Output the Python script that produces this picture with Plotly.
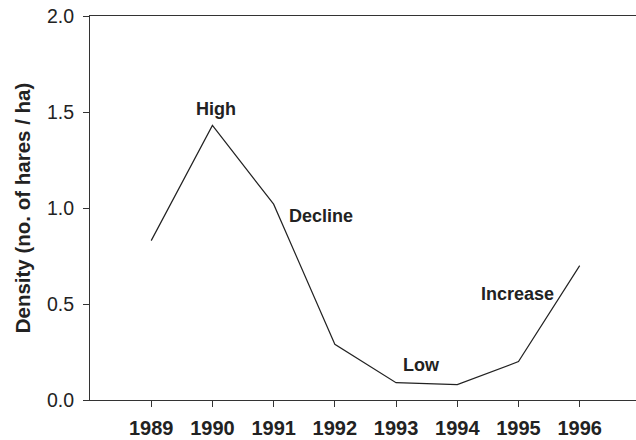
import plotly.graph_objects as go

years = [1989, 1990, 1991, 1992, 1993, 1994, 1995, 1996]
density = [0.83, 1.43, 1.02, 0.29, 0.09, 0.08, 0.20, 0.70]
y_ticks = [0.0, 0.5, 1.0, 1.5, 2.0]
y_tick_labels = ["0.0", "0.5", "1.0", "1.5", "2.0"]
phase_labels = ["High", "Decline", "Low", "Increase"]
phase_x = [1990.06, 1991.78, 1993.41, 1994.98]
phase_y = [1.516, 0.958, 0.182, 0.552]

fig = go.Figure()
fig.add_trace(go.Scatter(x=years, y=density, mode="lines",
                         line=dict(color="#222222", width=1.2),
                         showlegend=False, hoverinfo="skip"))

for t, x, y in zip(phase_labels, phase_x, phase_y):
    fig.add_annotation(x=x, y=y, text="<b>%s</b>" % t, showarrow=False,
                       font=dict(family="Liberation Sans, Arial", size=18, color="#222222"),
                       xanchor="center", yanchor="middle")

fig.update_layout(
    width=636, height=440,
    margin=dict(l=90, r=0, t=16, b=40),
    paper_bgcolor="white", plot_bgcolor="white",
    font=dict(family="Liberation Sans, Arial", color="#222222"),
    xaxis=dict(range=[1988, 1996.92], tickvals=years,
               ticktext=["<b>%d</b>" % y for y in years],
               tickfont=dict(size=20), showgrid=False, zeroline=False,
               showline=True, linecolor="#333333", linewidth=1.2, mirror=True,
               ticks="outside", ticklen=6, tickcolor="#333333", tickwidth=1.2,
               ticklabelstandoff=4),
    yaxis=dict(range=[0, 2.0], tickvals=y_ticks, ticktext=y_tick_labels,
               tickfont=dict(size=19.5), showgrid=False, zeroline=False,
               showline=True, linecolor="#333333", linewidth=1.2,
               ticks="outside", ticklen=6, tickcolor="#333333", tickwidth=1.2,
               ticklabelstandoff=5,
               title=dict(text="<b>Density (no. of hares / ha)</b>",
                          font=dict(size=20.5), standoff=10)),
)

fig.write_html("out.html",
               config={"displayModeBar": False},
               post_script="document.body.style.margin='0';"
                           "document.body.style.overflow='hidden';")
